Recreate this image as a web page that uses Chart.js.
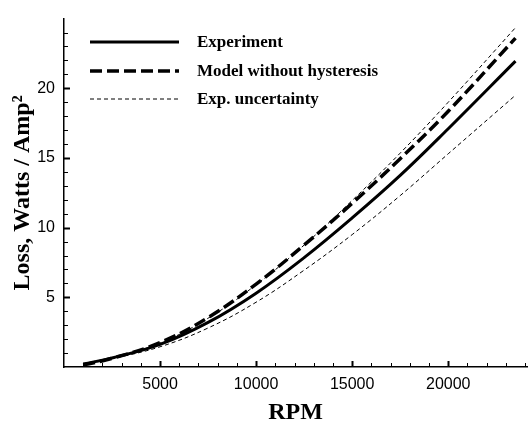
<!DOCTYPE html>
<html>
<head>
<meta charset="utf-8">
<script src="https://cdn.jsdelivr.net/npm/chart.js@4"></script>
<style>
  html, body { margin: 0; padding: 0; background: #fff; }
  #wrap { width: 529px; height: 423px; }
</style>
</head>
<body>
<div id="wrap"><canvas id="c" width="529" height="423"></canvas></div>
<script>
// ---- data ----
const rpm        = [1000, 2500, 5000, 7500, 10000, 12500, 15000, 17500, 20000, 23500];
const experiment = [0.22, 0.65, 1.62, 3.20, 5.30, 7.85, 10.70, 13.75, 17.10, 21.95];
const model      = [0.15, 0.62, 1.75, 3.55, 5.95, 8.75, 11.75, 14.95, 18.35, 23.60];
const upperUnc   = [0.22, 0.65, 1.72, 3.50, 5.90, 8.75, 11.95, 15.35, 19.00, 24.35];
const lowerUnc   = [0.20, 0.60, 1.45, 2.80, 4.65, 6.95, 9.50, 12.30, 15.30, 19.50];
const xTickLabels = [5000, 10000, 15000, 20000];
const yTickLabels = [5, 10, 15, 20];
const legendLabels = ['Experiment', 'Model without hysteresis', 'Exp. uncertainty'];

const pts = arr => rpm.map((x, i) => ({ x: x, y: arr[i] }));

const innerTicks = {
  id: 'innerTicks',
  afterDatasetsDraw(chart) {
    const { ctx, chartArea: a, scales: { x, y } } = chart;
    ctx.save();
    ctx.strokeStyle = '#000';
    for (let v = 1000; v < x.max; v += 1000) {
      const px = Math.round(x.getPixelForValue(v)) + 0.5;
      const major = v % 5000 === 0;
      ctx.lineWidth = major ? 2 : 1;
      ctx.beginPath();
      ctx.moveTo(px, a.bottom);
      ctx.lineTo(px, a.bottom - (major ? 6 : 4));
      ctx.stroke();
    }
    for (let v = 1; v < y.max; v += 1) {
      const py = Math.round(y.getPixelForValue(v)) + 0.5;
      const major = v % 5 === 0;
      ctx.lineWidth = major ? 2 : 1;
      ctx.beginPath();
      ctx.moveTo(a.left, py);
      ctx.lineTo(a.left + (major ? 6 : 4), py);
      ctx.stroke();
    }
    ctx.restore();
  }
};

const customLegend = {
  id: 'customLegend',
  afterDraw(chart) {
    const { ctx, chartArea: a } = chart;
    const ds = chart.data.datasets;
    ctx.save();
    ctx.font = 'bold 17px "Liberation Serif", "Times New Roman", serif';
    ctx.fillStyle = '#000';
    ctx.textBaseline = 'middle';
    const x0 = a.left + 26, x1 = a.left + 115, tx = a.left + 133;
    const rows = [42, 71, 99];
    legendLabels.forEach((lab, i) => {
      const d = ds[i];
      const yy = rows[i];
      ctx.strokeStyle = '#000';
      ctx.lineWidth = d.borderWidth;
      ctx.setLineDash(d.borderDash || []);
      ctx.beginPath();
      ctx.moveTo(x0, yy);
      ctx.lineTo(x1, yy);
      ctx.stroke();
      ctx.setLineDash([]);
      ctx.fillText(lab, tx, yy + 1);
    });
    ctx.restore();
  }
};

const tickFont = { family: '"Liberation Sans", Arial, sans-serif', size: 16 };
const titleFontX = { family: '"Liberation Serif", "Times New Roman", serif', size: 24, weight: 'bold', lineHeight: 0.85 };
const titleFontY = { family: '"Liberation Serif", "Times New Roman", serif', size: 24, weight: 'bold', lineHeight: 1 };
const line = { borderColor: '#000', pointRadius: 0, tension: 0.4, fill: false };

new Chart(document.getElementById('c'), {
  type: 'line',
  data: {
    datasets: [
      Object.assign({ label: legendLabels[0], data: pts(experiment), borderWidth: 3 }, line),
      Object.assign({ label: legendLabels[1], data: pts(model), borderWidth: 3.5, borderDash: [12, 5] }, line),
      Object.assign({ label: legendLabels[2], data: pts(upperUnc), borderWidth: 1, borderDash: [4, 3] }, line),
      Object.assign({ label: legendLabels[2], data: pts(lowerUnc), borderWidth: 1, borderDash: [4, 3] }, line)
    ]
  },
  options: {
    responsive: false,
    animation: false,
    devicePixelRatio: 1,
    layout: { padding: { top: 10, right: 2, left: 0, bottom: 0 } },
    plugins: { legend: { display: false }, tooltip: { enabled: false } },
    scales: {
      x: {
        type: 'linear', position: 'bottom', min: 0, max: 24100,
        grid: { display: false, drawTicks: false },
        border: { display: true, color: '#000', width: 1.5 },
        afterBuildTicks: s => { s.ticks = xTickLabels.map(v => ({ value: v })); },
        afterFit: s => { s.height = 56; },
        ticks: { color: '#000', font: tickFont, padding: 8, maxRotation: 0, callback: v => String(v) },
        title: { display: true, text: 'RPM', color: '#000', font: titleFontX, padding: { top: 0, bottom: 0 } }
      },
      y: {
        type: 'linear', position: 'left', min: 0, max: 25,
        grid: { display: false, drawTicks: false },
        border: { display: true, color: '#000', width: 1.5 },
        afterBuildTicks: s => { s.ticks = yTickLabels.map(v => ({ value: v })); },
        afterFit: s => { s.width = 64; },
        ticks: { color: '#000', font: tickFont, padding: 9, callback: v => String(v) },
        title: { display: true, text: 'Loss, Watts / Amp²', color: '#000', font: titleFontY, padding: { top: 11, bottom: 0 } }
      }
    }
  },
  plugins: [innerTicks, customLegend]
});
</script>
</body>
</html>
